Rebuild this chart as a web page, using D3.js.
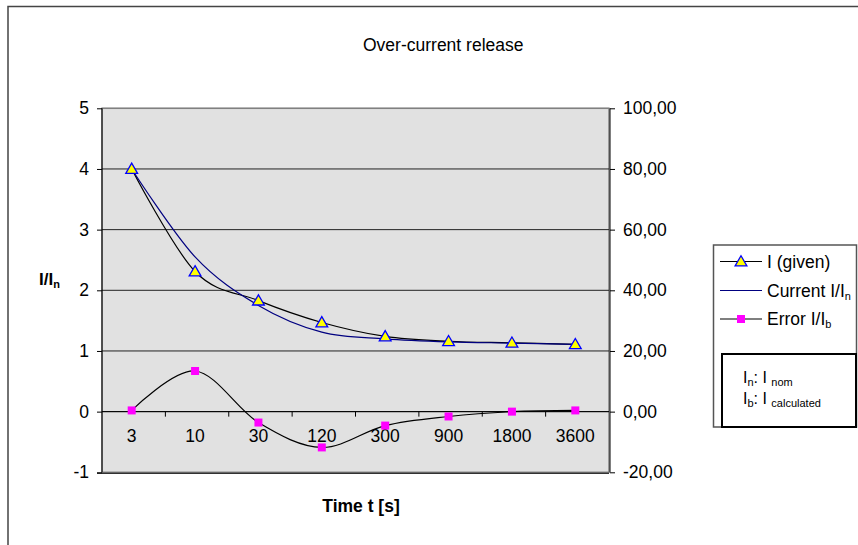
<!DOCTYPE html>
<html>
<head>
<meta charset="utf-8">
<script src="https://cdn.jsdelivr.net/npm/d3@7"></script>
<style>
  body { margin: 0; background: #fff; }
  text { font-family: "Liberation Sans", Arial, sans-serif; fill: #000; }
</style>
</head>
<body>
<div id="chart"></div>
<script>
// categories (time t in s)
var times = ["3", "10", "30", "120", "300", "900", "1800", "3600"];
// I (given), left axis I/In
var iGiven = [4.0, 2.31, 1.83, 1.47, 1.24, 1.16, 1.135, 1.11];
// computed current I/In, left axis
var iCurrent = [4.0, 2.55, 1.75, 1.31, 1.20, 1.15, 1.13, 1.11];
// error I/Ib, right axis
var errorPct = [0.4, 13.4, -3.6, -11.8, -4.6, -1.6, 0.0, 0.4];
var leftTicks = [-1, 0, 1, 2, 3, 4, 5];
var rightTicks = [-20, 0, 20, 40, 60, 80, 100];

var W = 858, H = 545;
var plot = {left: 102, right: 609, top: 108.3, bottom: 472.3};
var fs = "17.5px";

var svg = d3.select("#chart").append("svg")
    .attr("width", W)
    .attr("height", H);

// outer chart frame (runs past the picture edge)
svg.append("rect")
    .attr("x", 8).attr("y", 6.5)
    .attr("width", 900).attr("height", 600)
    .attr("fill", "#fff")
    .attr("stroke", "#444").attr("stroke-width", 1.5);

var x = d3.scaleBand()
    .domain(times)
    .range([plot.left, plot.right]);

var yL = d3.scaleLinear()
    .domain([-1, 5])
    .range([plot.bottom, plot.top]);

var yR = d3.scaleLinear()
    .domain([-20, 100])
    .range([plot.bottom, plot.top]);

// plot area
svg.append("rect")
    .attr("x", plot.left).attr("y", plot.top)
    .attr("width", plot.right - plot.left)
    .attr("height", plot.bottom - plot.top)
    .attr("fill", "#e1e1e1")
    .attr("stroke", "#808080").attr("stroke-width", 1.5);

// gridlines
svg.append("g")
    .selectAll("line")
    .data(leftTicks.filter(function(d) { return d !== -1; }))
    .enter().append("line")
      .attr("x1", plot.left).attr("x2", plot.right)
      .attr("y1", function(d) { return yL(d); })
      .attr("y2", function(d) { return yL(d); })
      .attr("stroke", function(d) { return d === 5 ? "#808080" : "#222"; })
      .attr("stroke-width", 1);

// left axis
var leftAxis = svg.append("g")
    .attr("transform", "translate(" + plot.left + ",0)")
    .call(d3.axisLeft(yL).tickValues(leftTicks).tickSize(5).tickPadding(8)
        .tickFormat(function(d) { return String(d); }));
leftAxis.select(".domain").attr("stroke", "#000").attr("d", "M0," + plot.top + "V" + plot.bottom);
leftAxis.selectAll("text").style("font-size", fs);

// right axis
var rightAxis = svg.append("g")
    .attr("transform", "translate(" + (plot.right + 1) + ",0)")
    .call(d3.axisRight(yR).tickValues(rightTicks).tickSize(5).tickPadding(8)
        .tickFormat(function(d) { return d.toFixed(2).replace(".", ","); }));
rightAxis.select(".domain").attr("stroke", "#000").attr("d", "M0," + plot.top + "V" + plot.bottom);
rightAxis.selectAll("text").style("font-size", fs);

// bottom line of plot area
svg.append("line")
    .attr("x1", plot.left - 5).attr("x2", plot.right)
    .attr("y1", plot.bottom + 1).attr("y2", plot.bottom + 1)
    .attr("stroke", "#000");

// category axis along the zero line
var catAxis = svg.append("g")
    .attr("transform", "translate(0," + yL(0) + ")");
catAxis.append("line")
    .attr("x1", plot.left).attr("x2", plot.right)
    .attr("stroke", "#000");
catAxis.selectAll(".tick")
    .data(times.slice(1))
    .enter().append("line")
      .attr("x1", function(d) { return x(d); })
      .attr("x2", function(d) { return x(d); })
      .attr("y1", 0).attr("y2", 5)
      .attr("stroke", "#000");
catAxis.selectAll("text")
    .data(times)
    .enter().append("text")
      .attr("x", function(d) { return x(d) + x.bandwidth() / 2 - 2; })
      .attr("y", 30)
      .attr("text-anchor", "middle")
      .style("font-size", fs)
      .text(function(d) { return d; });

var cx = function(d, i) { return x(times[i]) + x.bandwidth() / 2 - 2; };

// lines, smoothed the way the spreadsheet does it
var smooth = d3.curveCardinal.tension(0);

svg.append("path")
    .datum(errorPct)
    .attr("fill", "none")
    .attr("stroke", "#000")
    .attr("stroke-width", 1.2)
    .attr("d", d3.line().x(cx).y(function(d) { return yR(d); }).curve(smooth));

svg.append("path")
    .datum(iGiven)
    .attr("fill", "none")
    .attr("stroke", "#000")
    .attr("stroke-width", 1.2)
    .attr("d", d3.line().x(cx).y(function(d) { return yL(d); }).curve(smooth));

svg.append("path")
    .datum(iCurrent)
    .attr("fill", "none")
    .attr("stroke", "#000080")
    .attr("stroke-width", 1.2)
    .attr("d", d3.line().x(cx).y(function(d) { return yL(d); }).curve(smooth));

// markers
var tri = d3.symbol().type(d3.symbolTriangle).size(60);
var sq = d3.symbol().type(d3.symbolSquare).size(64);

svg.append("g").selectAll("path")
    .data(iGiven)
    .enter().append("path")
      .attr("d", tri)
      .attr("transform", function(d, i) { return "translate(" + cx(d, i) + "," + (yL(d) + 1) + ")"; })
      .attr("fill", "#ffff00")
      .attr("stroke", "#0000ff")
      .attr("stroke-width", 1.3);

svg.append("g").selectAll("path")
    .data(errorPct)
    .enter().append("path")
      .attr("d", sq)
      .attr("transform", function(d, i) { return "translate(" + cx(d, i) + "," + yR(d) + ")"; })
      .attr("fill", "#ff00ff");

// titles
svg.append("text")
    .attr("x", 363).attr("y", 51)
    .style("font-size", fs)
    .text("Over-current release");

var yTitle = svg.append("text")
    .attr("x", 39).attr("y", 285)
    .style("font-size", "17px")
    .style("font-weight", "bold");
yTitle.append("tspan").text("I/I");
yTitle.append("tspan").attr("dy", 3).style("font-size", "11px").text("n");

svg.append("text")
    .attr("x", 361).attr("y", 512)
    .attr("text-anchor", "middle")
    .style("font-size", fs)
    .style("font-weight", "bold")
    .text("Time t [s]");

// legend
var legend = svg.append("g");
legend.append("rect")
    .attr("x", 713.5).attr("y", 245)
    .attr("width", 143).attr("height", 182)
    .attr("fill", "#fff")
    .attr("stroke", "#555").attr("stroke-width", 1.5);

var legendRows = [
  {label: "I (given)", sub: "", color: "#000", marker: "tri", y: 261.5},
  {label: "Current I/I", sub: "n", color: "#000080", marker: "", y: 290.5},
  {label: "Error I/I", sub: "b", color: "#000", marker: "sq", y: 319}
];
legendRows.forEach(function(r) {
  legend.append("line")
      .attr("x1", 720).attr("x2", 762)
      .attr("y1", r.y).attr("y2", r.y)
      .attr("stroke", r.color).attr("stroke-width", 1.2);
  if (r.marker === "tri") {
    legend.append("path").attr("d", tri)
        .attr("transform", "translate(741," + (r.y + 1) + ")")
        .attr("fill", "#ffff00").attr("stroke", "#0000ff").attr("stroke-width", 1.3);
  } else if (r.marker === "sq") {
    legend.append("path").attr("d", sq)
        .attr("transform", "translate(741," + r.y + ")")
        .attr("fill", "#ff00ff");
  }
  var t = legend.append("text")
      .attr("x", 767).attr("y", r.y + 6)
      .style("font-size", fs)
      .text(r.label);
  if (r.sub) t.append("tspan").attr("dy", 3).style("font-size", "11px").text(r.sub);
});

// note box
legend.append("rect")
    .attr("x", 722).attr("y", 354)
    .attr("width", 134).attr("height", 73)
    .attr("fill", "#fff")
    .attr("stroke", "#000").attr("stroke-width", 2);

var n1 = legend.append("text").attr("x", 743).attr("y", 383).style("font-size", "16px");
n1.append("tspan").text("I");
n1.append("tspan").attr("dy", 3).style("font-size", "11px").text("n");
n1.append("tspan").attr("dy", -3).text(": I ");
n1.append("tspan").attr("dy", 3).style("font-size", "11px").text("nom");

var n2 = legend.append("text").attr("x", 743).attr("y", 404).style("font-size", "16px");
n2.append("tspan").text("I");
n2.append("tspan").attr("dy", 3).style("font-size", "11px").text("b");
n2.append("tspan").attr("dy", -3).text(": I ");
n2.append("tspan").attr("dy", 3).style("font-size", "11px").text("calculated");
</script>
</body>
</html>
